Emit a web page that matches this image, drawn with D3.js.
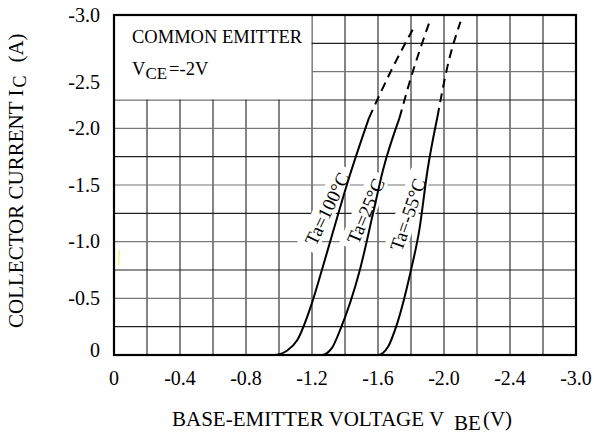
<!DOCTYPE html>
<html>
<head>
<meta charset="utf-8">
<script src="https://cdn.jsdelivr.net/npm/d3@7"></script>
<style>
body { margin: 0; background: #fff; }
text { font-family: "Liberation Serif", "Times New Roman", serif; fill: #000; }
</style>
</head>
<body>
<div id="chart"></div>
<script>
// axis ticks (the last x tick is printed as -3.0 on the original sheet)
var xTicks = [0, -0.4, -0.8, -1.2, -1.6, -2.0, -2.4, -2.8];
var xTickLabels = ["0", "-0.4", "-0.8", "-1.2", "-1.6", "-2.0", "-2.4", "-3.0"];
var yTicks = [0, -0.5, -1.0, -1.5, -2.0, -2.5, -3.0];
var yTickLabels = ["0", "-0.5", "-1.0", "-1.5", "-2.0", "-2.5", "-3.0"];

// curves: V_BE (V) and I_C (A)
var vbe100 = [-0.87, -0.97, -1.05, -1.11, -1.20, -1.26, -1.33, -1.415, -1.545];
var ic100 = [0, 0, -0.04, -0.13, -0.46, -0.75, -1.1, -1.52, -2.09];
var vbe100Dash = [-1.545, -1.68, -1.81];
var ic100Dash = [-2.09, -2.51, -2.87];

var vbe25 = [-1.2, -1.26, -1.32, -1.37, -1.49, -1.57, -1.63, -1.73];
var ic25 = [0, 0, -0.06, -0.22, -0.75, -1.25, -1.63, -2.09];
var vbe25Dash = [-1.73, -1.79, -1.91];
var ic25Dash = [-2.09, -2.4, -2.93];

var vbe55 = [-1.5, -1.6, -1.66, -1.71, -1.80, -1.85, -1.90, -1.96];
var ic55 = [0, 0, -0.07, -0.25, -0.75, -1.1, -1.63, -2.1];
var vbe55Dash = [-1.96, -2.02, -2.10];
var ic55Dash = [-2.1, -2.54, -2.94];

var curveLabels = ["Ta=100°C", "Ta=25°C", "Ta=-55°C"];

var margin = {top: 15, right: 18, bottom: 80, left: 114};
var width = 594 - margin.left - margin.right;
var height = 435 - margin.top - margin.bottom;

var svg = d3.select("#chart").append("svg")
    .attr("width", 594)
    .attr("height", 435);
var g = svg.append("g")
    .attr("transform", "translate(" + margin.left + "," + margin.top + ")");

var x = d3.scaleLinear().domain([0, -2.8]).range([0, width]);
var y = d3.scaleLinear().domain([0, -3.0]).range([height, 0]);

// grid: 0.2 V columns, 0.25 A rows
var gridX = d3.range(1, 14).map(function (i) { return -0.2 * i; });
var gridY = d3.range(1, 12).map(function (i) { return -0.25 * i; });

g.selectAll(".vgrid").data(gridX).enter().append("line")
    .attr("class", "vgrid")
    .attr("x1", function (d) { return x(d); })
    .attr("x2", function (d) { return x(d); })
    .attr("y1", 0).attr("y2", height)
    .style("stroke", "#333").style("stroke-width", 1.2);
g.selectAll(".hgrid").data(gridY).enter().append("line")
    .attr("class", "hgrid")
    .attr("y1", function (d) { return y(d); })
    .attr("y2", function (d) { return y(d); })
    .attr("x1", 0).attr("x2", width)
    .style("stroke", function (d, i) { return i % 2 ? "#777" : "#222"; })
    .style("stroke-width", 1.2);

// white box for the test condition
g.append("rect")
    .attr("x", 0).attr("y", 0)
    .attr("width", x(-1.2) - 0.6)
    .attr("height", y(-2.25) - 0.6)
    .attr("fill", "#fff");

g.append("text")
    .attr("x", 18).attr("y", 28)
    .style("font-size", "18.5px")
    .text("COMMON EMITTER");
var vce = g.append("text")
    .attr("x", 18).attr("y", 60)
    .style("font-size", "18.5px");
vce.append("tspan").text("V");
vce.append("tspan").attr("dy", 4).style("font-size", "17px").text("CE");
vce.append("tspan").attr("dy", -4).attr("dx", 2).text("=-2V");

// curve labels with white backing so the grid breaks round them
var labelPos = [
    {cx: -1.29, cy: -1.29, angle: -64},
    {cx: -1.525, cy: -1.27, angle: -67},
    {cx: -1.78, cy: -1.24, angle: -71}
];
var lab = g.selectAll(".clabel").data(curveLabels).enter().append("g")
    .attr("class", "clabel")
    .attr("transform", function (d, i) {
        return "translate(" + x(labelPos[i].cx) + "," + y(labelPos[i].cy) + ") rotate(" + labelPos[i].angle + ")";
    });
lab.append("rect")
    .attr("x", function (d) { return -d.length * 5.2 - 4; })
    .attr("y", -12)
    .attr("width", function (d) { return d.length * 10.4 + 8; })
    .attr("height", 22)
    .attr("fill", "#fff");
lab.append("text")
    .attr("text-anchor", "middle")
    .attr("dy", "0.35em")
    .style("font-size", "19px")
    .text(function (d) { return d; });

// curves
var line = d3.line()
    .x(function (d) { return x(d[0]); })
    .y(function (d) { return y(d[1]); })
    .curve(d3.curveMonotoneX);

var solid = [[vbe100, ic100], [vbe25, ic25], [vbe55, ic55]];
var dashed = [[vbe100Dash, ic100Dash], [vbe25Dash, ic25Dash], [vbe55Dash, ic55Dash]];

solid.forEach(function (s) {
    g.append("path")
        .attr("d", line(d3.zip(s[0], s[1])))
        .attr("fill", "none")
        .style("stroke", "#000").style("stroke-width", 2);
});
dashed.forEach(function (s) {
    g.append("path")
        .attr("d", line(d3.zip(s[0], s[1])))
        .attr("fill", "none")
        .style("stroke", "#000").style("stroke-width", 2)
        .style("stroke-dasharray", "9,6");
});

// stray yellow mark on the scan
g.append("line")
    .attr("x1", 4.5).attr("y1", 250)
    .attr("x2", 5.5).attr("y2", 235)
    .style("stroke", "#f3ef6a").style("stroke-width", 1.2);

// frame
g.append("rect")
    .attr("width", width).attr("height", height)
    .attr("fill", "none")
    .style("stroke", "#000").style("stroke-width", 2.2);

// tick labels
g.selectAll(".xtick").data(xTicks).enter().append("text")
    .attr("class", "xtick")
    .attr("x", function (d) { return x(d); })
    .attr("y", height + 30)
    .attr("text-anchor", "middle")
    .style("font-size", "20px")
    .text(function (d, i) { return xTickLabels[i]; });
g.selectAll(".ytick").data(yTicks).enter().append("text")
    .attr("class", "ytick")
    .attr("x", -14)
    .attr("y", function (d) { return y(d); })
    // the -2.5 label sits a little low on the sheet
    .attr("dy", function (d) { return d === -2.5 ? "0.85em" : (d === 0 ? "0.1em" : "0.33em"); })
    .attr("text-anchor", "end")
    .style("font-size", "20px")
    .text(function (d, i) { return yTickLabels[i]; });

// axis titles
var xt = svg.append("text")
    .attr("x", 172).attr("y", 426)
    .style("font-size", "21px");
xt.append("tspan").text("BASE-EMITTER VOLTAGE V");
xt.append("tspan").attr("dx", 10).attr("dy", 4).text("BE");
xt.append("tspan").attr("dx", 2).attr("dy", -4).text("(V)");

var yt = svg.append("text")
    .attr("transform", "translate(23,328) rotate(-90)")
    .style("font-size", "21px");
yt.append("tspan").text("COLLECTOR CURRENT I");
yt.append("tspan").attr("dx", 2).attr("dy", 3).style("font-size", "18px").text("C");
yt.append("tspan").attr("dx", 13).attr("dy", -3).text("(A)");
</script>
</body>
</html>
